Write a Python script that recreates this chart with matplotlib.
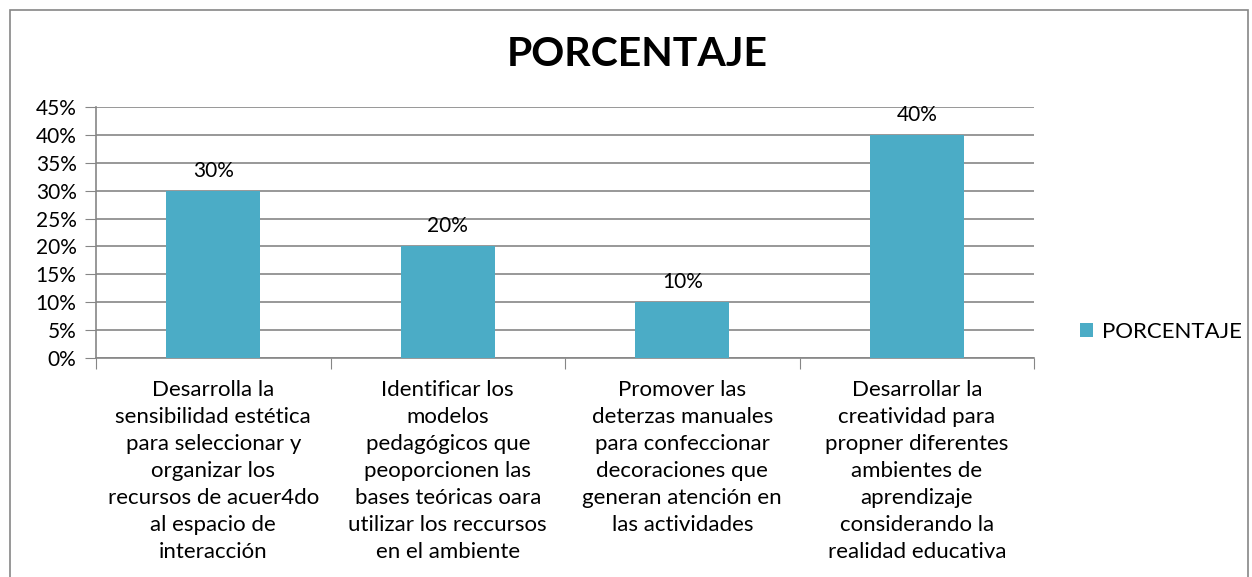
import matplotlib.pyplot as plt
from matplotlib.patches import Rectangle
from matplotlib.ticker import FuncFormatter, MultipleLocator

# chart data
categorias = [
    "Desarrolla la\nsensibilidad estética\npara seleccionar y\norganizar los\nrecursos de acuer4do\nal espacio de\ninteracción",
    "Identificar los\nmodelos\npedagógicos que\npeoporcionen las\nbases teóricas oara\nutilizar los reccursos\nen el ambiente",
    "Promover las\ndeterzas manuales\npara confeccionar\ndecoraciones que\ngeneran atención en\nlas actividades",
    "Desarrollar la\ncreatividad para\npropner diferentes\nambientes de\naprendizaje\nconsiderando la\nrealidad educativa",
]
porcentaje = [0.30, 0.20, 0.10, 0.40]
serie = "PORCENTAJE"

plt.rcParams['font.family'] = ['Lato', 'DejaVu Sans']
color_barra = '#4BACC6'
gris = '#868686'

fig = plt.figure(figsize=(12.52, 5.77), dpi=100)
# outer chart border
fig.patches.append(Rectangle((10 / 1252, -0.01), 1238 / 1252, 1 - 10 / 577 + 0.01,
                             transform=fig.transFigure, fill=False,
                             edgecolor=gris, linewidth=1.2))

ax = fig.add_axes([96 / 1252, 1 - 358 / 577, (1034 - 96) / 1252, (358 - 107) / 577])

x = range(len(categorias))
barras = ax.bar(x, porcentaje, width=0.4, color=color_barra, label=serie, zorder=3)

for b, v in zip(barras, porcentaje):
    ax.text(b.get_x() + b.get_width() / 2, v + 0.018, f"{int(round(v * 100))}%",
            ha='center', va='bottom', fontsize=15, color='black')

ax.set_xlim(-0.5, len(categorias) - 0.5)
ax.set_ylim(0, 0.45)
ax.yaxis.set_major_locator(MultipleLocator(0.05))
ax.yaxis.set_major_formatter(FuncFormatter(lambda v, p: f"{int(round(v * 100))}%"))
ax.grid(axis='y', color=gris, linewidth=1.2, zorder=0)

for s in ['top', 'right']:
    ax.spines[s].set_visible(False)
ax.spines['left'].set_color(gris)
ax.spines['bottom'].set_color(gris)
ax.spines['left'].set_linewidth(1.2)
ax.spines['bottom'].set_linewidth(1.2)

ax.tick_params(axis='y', length=8, color=gris, labelsize=15, pad=6)
# category ticks at the boundaries, labels centred under bars
ax.set_xticks([i - 0.5 for i in range(len(categorias) + 1)])
ax.set_xticklabels([])
ax.tick_params(axis='x', length=8, color=gris)
ax.set_xticks(list(x), minor=True)
ax.set_xticklabels(categorias, minor=True, fontsize=16, linespacing=1.44)
ax.tick_params(axis='x', which='minor', length=0, pad=16)

fig.text(637 / 1252, 1 - 55 / 577, "PORCENTAJE", ha='center', va='center',
         fontsize=29.5, fontweight='bold')

ax.legend(loc='center left', bbox_to_anchor=(1060 / 1252, 1 - 332 / 577),
          bbox_transform=fig.transFigure, frameon=False, fontsize=16,
          handlelength=0.6, handleheight=0.6, handletextpad=0.4)

fig.savefig('out.png', dpi=100)
